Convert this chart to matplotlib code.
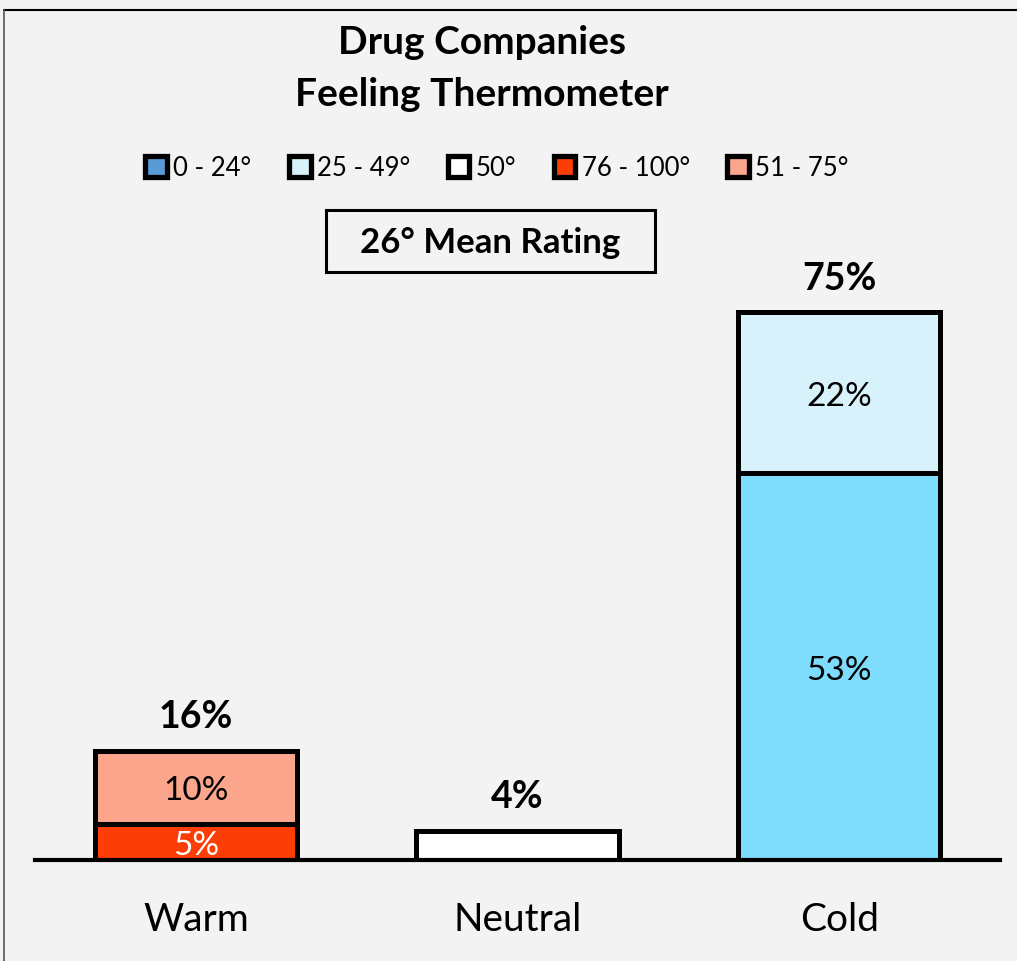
import matplotlib
matplotlib.use("Agg")
from matplotlib import pyplot as plt
from matplotlib.patches import Patch, Rectangle
from matplotlib.lines import Line2D

plt.rcParams['font.family'] = ['Lato', 'DejaVu Sans']

# data
categories = ['Warm', 'Neutral', 'Cold']
# segment values per category (bottom, top)
warm_vals = [5, 10]
neutral_vals = [4]
cold_vals = [53, 22]
totals = ['16%', '4%', '75%']
mean_rating = '26° Mean Rating'
leg_names = ['0 - 24°', '25 - 49°', '50°', '76 - 100°', '51 - 75°']

warm_colors = ['#FC3D05', '#FBA68C']
neutral_colors = ['#FFFFFF']
cold_colors = ['#7EDCFC', '#D8F2FC']
warm_txt = ['white', 'black']
leg_colors = ['#5B9BD5', '#D8F2FC', '#FFFFFF', '#FC3D05', '#FBA68C']

bg = '#F2F3F2'

fig = plt.figure(figsize=(10.17, 9.61), dpi=100, facecolor=bg)
ax = fig.add_axes([35 / 1017, 101 / 961, 965 / 1017, 657 / 961])
ax.set_facecolor(bg)

width = 0.63
edge_lw = 3.6

def stack(x, vals, colors, txtcolors=None, labels=True):
    bottom = 0
    for i, v in enumerate(vals):
        ax.bar(x, v, width, bottom=bottom, color=colors[i], edgecolor='black',
               linewidth=edge_lw, zorder=2)
        if labels:
            c = txtcolors[i] if txtcolors else 'black'
            ax.text(x, bottom + v / 2 - 0.55, f'{v}%', ha='center',
                    va='center', fontsize=24, color=c, zorder=3)
        bottom += v
    return bottom

t0 = stack(0, warm_vals, warm_colors, warm_txt)
t1 = stack(1, neutral_vals, neutral_colors, labels=False)
t2 = stack(2, cold_vals, cold_colors)

for x, top, lab in zip([0, 1, 2], [t0, t1, t2], totals):
    ax.text(x, top + 4.6, lab, ha='center', va='center', fontsize=27,
            fontweight='bold')

ax.set_xlim(-0.5, 2.5)
ax.set_ylim(0, 90)
for s in ['top', 'right', 'left']:
    ax.spines[s].set_visible(False)
ax.spines['bottom'].set_linewidth(3)
ax.spines['bottom'].set_zorder(4)
ax.set_yticks([])
ax.set_xticks([0, 1, 2])
ax.set_xticklabels(categories, fontsize=28)
ax.tick_params(axis='x', length=0, pad=30)

# title
fig.text(482 / 1017, 1 - 43 / 961, 'Drug Companies', ha='center', va='center',
         fontsize=28, fontweight='bold')
fig.text(482 / 1017, 1 - 95 / 961, 'Feeling Thermometer', ha='center',
         va='center', fontsize=28, fontweight='bold')

# mean rating box
fig.text(490 / 1017, 1 - 243 / 961, mean_rating, ha='center', va='center',
         fontsize=25, fontweight='bold')
fig.add_artist(Rectangle((326 / 1017, 1 - 272 / 961), 329 / 1017, 62 / 961,
                         transform=fig.transFigure, fill=False,
                         edgecolor='black', linewidth=2.2))

# legend
handles = [Patch(facecolor=c, edgecolor='black', linewidth=3.8)
           for c in leg_colors]
fig.legend(handles, leg_names, loc='center', ncol=5,
           bbox_to_anchor=(497 / 1017, 1 - 168 / 961), frameon=False,
           fontsize=18.5, handlelength=0.85, handleheight=0.85,
           handletextpad=0.25, columnspacing=1.45)

# outer frame (top and left edges)
fig.add_artist(Line2D([4 / 1017, 1], [1 - 10 / 961, 1 - 10 / 961],
                      transform=fig.transFigure, color='black', linewidth=1.5))
fig.add_artist(Line2D([4 / 1017, 4 / 1017], [0, 1 - 10 / 961],
                      transform=fig.transFigure, color='#555555', linewidth=1.2))

fig.savefig('out.png', dpi=100, facecolor=bg)
